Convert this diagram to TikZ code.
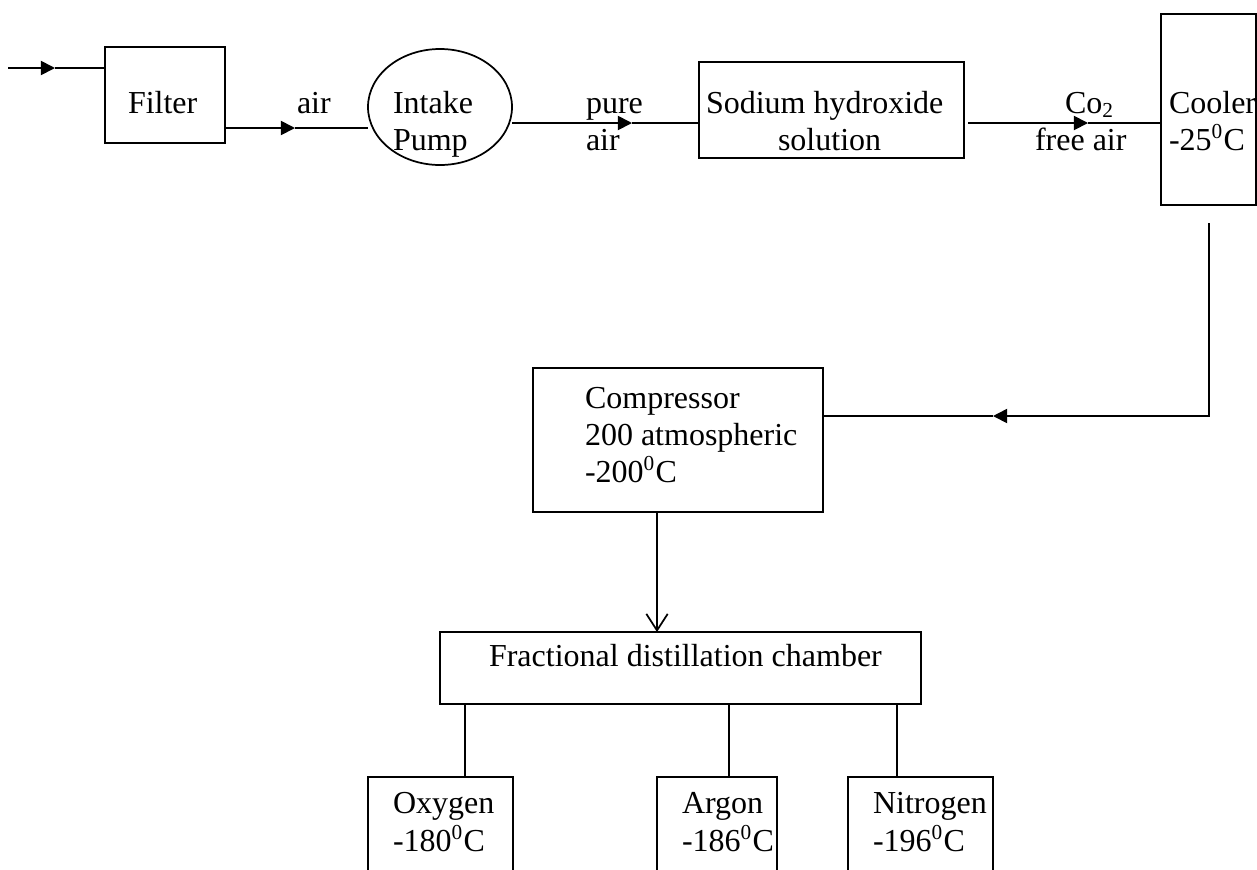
\documentclass[tikz,border=0pt]{standalone}
\usepackage{fontspec}
\setmainfont{Liberation Serif}
\usetikzlibrary{arrows.meta,shapes.geometric,fit}
\tikzset{
  box/.style={draw, rectangle, inner sep=0pt, outer sep=0pt},
  txt/.style={anchor=base west, inner sep=0pt, outer sep=0pt, font=\fontsize{12}{13.8}\selectfont},
  arr/.style={-{Triangle[length=5.3pt,width=5.3pt]}},
  openarr/.style={-{Straight Barb[length=6.2pt,width=8pt]}},
}
\begin{document}
\begin{tikzpicture}[x=0.375pt, y=-0.375pt, line width=0.65pt]
\useasboundingbox (0,0) rectangle (1257,869);
\clip (0,0) rectangle (1257,869);
% boxes
\node[box, fit={(105,47) (225,143)}] (filter) {};
\node[draw, ellipse, inner sep=0pt, outer sep=0pt, minimum width=144*0.375pt, minimum height=116*0.375pt] (pump) at (440,107) {};
\node[box, fit={(699,62) (964,158)}] (sodium) {};
\node[box, fit={(1161,14) (1256,205)}] (cooler) {};
\node[box, fit={(533,368) (823,512)}] (comp) {};
\node[box, fit={(440,632) (921,704)}] (frac) {};
\node[box, fit={(368,777) (513,900)}] (oxy) {};
\node[box, fit={(657,777) (777,900)}] (argon) {};
\node[box, fit={(848,777) (993,900)}] (nitro) {};
% texts
\node[txt] (tfilter) at (128,113) {Filter};
\node[txt] (tair1) at (297,113) {air};
\node[txt] (tpump1) at (393,113) {Intake};
\node[txt] (tpump2) at (393,150) {Pump};
\node[txt] (tpure1) at (586,113) {pure};
\node[txt] (tpure2) at (586,150) {air};
\node[txt] (tsod1) at (706,113) {Sodium hydroxide};
\node[txt] (tsod2) at (778,150) {solution};
\node[txt] (tco1) at (1065,113) {Co\textsubscript{2}};
\node[txt] (tco2) at (1035,150) {free air};
\node[txt] (tcool1) at (1169,113) {Cooler};
\node[txt] (tcool2) at (1169,150) {-25\textsuperscript{0}C};
\node[txt] (tcomp1) at (585,408) {Compressor};
\node[txt] (tcomp2) at (585,445) {200 atmospheric};
\node[txt] (tcomp3) at (585,482) {-200\textsuperscript{0}C};
\node[txt] (tfrac) at (489,666) {Fractional distillation chamber};
\node[txt] (toxy1) at (393,813) {Oxygen};
\node[txt] (toxy2) at (393,851) {-180\textsuperscript{0}C};
\node[txt] (targ1) at (682,813) {Argon};
\node[txt] (targ2) at (682,851) {-186\textsuperscript{0}C};
\node[txt] (tnit1) at (873,813) {Nitrogen};
\node[txt] (tnit2) at (873,851) {-196\textsuperscript{0}C};
% connectors
\coordinate (in0) at (8,68);
\coordinate (in1) at (55,68);
\draw[arr] (in0) -- (in1);
\draw (in1) -- (in1 -| filter.west);
\coordinate (a1) at (295,128);
\draw[arr] (filter.east |- a1) -- (a1);
\draw (a1) -- (a1 -| pump.west);
\coordinate (a2) at (632,123);
\draw[arr] (pump.east |- a2) -- (a2);
\draw (a2) -- (a2 -| sodium.west);
\coordinate (a3) at (1088,123);
\coordinate (s3) at (968,123);
\draw[arr] (s3) -- (a3);
\draw (a3) -- (a3 -| cooler.west);
\coordinate (c0) at (1209,223);
\coordinate (c1) at (1209,416);
\coordinate (a4) at (993,416);
\draw[arr] (c0) -- (c1) -- (a4);
\draw (a4) -- (a4 -| comp.east);
\coordinate (d) at (657,0);
\draw[openarr] (d |- comp.south) -- (d |- frac.north);
\coordinate (ox) at (465,0);
\coordinate (ax) at (729,0);
\coordinate (nx) at (897,0);
\draw (frac.south -| ox) -- (oxy.north -| ox);
\draw (frac.south -| ax) -- (argon.north -| ax);
\draw (frac.south -| nx) -- (nitro.north -| nx);
\end{tikzpicture}
\end{document}
